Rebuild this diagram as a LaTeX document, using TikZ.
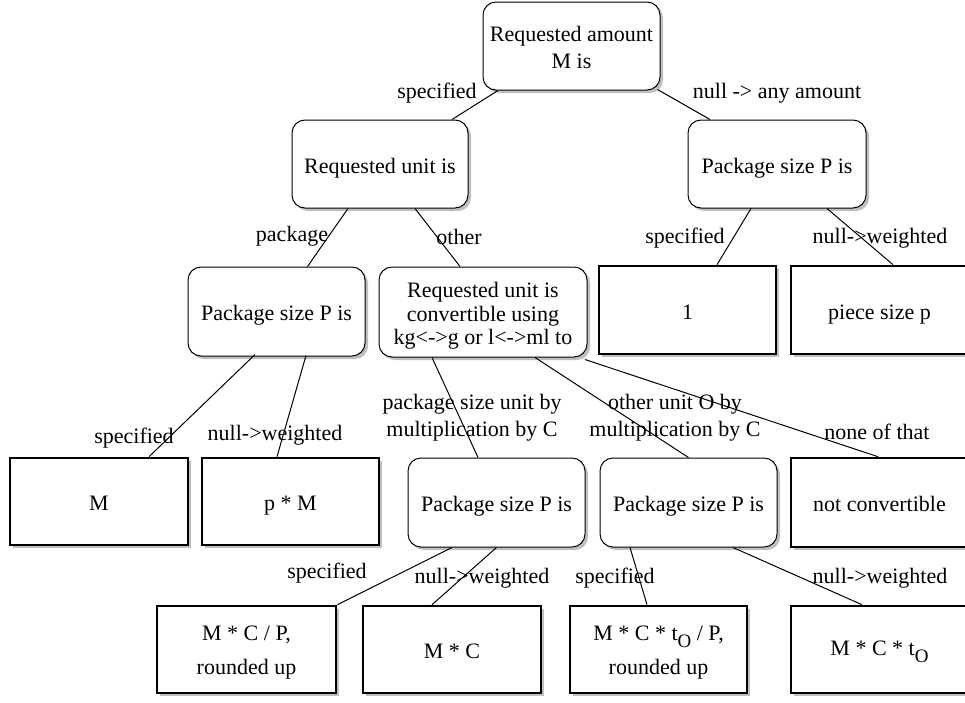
\documentclass[tikz,border=0pt]{standalone}
\usepackage{fontspec}
\setmainfont{Liberation Serif}
\usetikzlibrary{shadows}
\newcommand{\subO}{\raisebox{-7pt}{\fontsize{19}{19}\selectfont O}}
\begin{document}
\begin{tikzpicture}[x=1pt,y=-1pt,
  font=\fontsize{22}{27}\selectfont,
  boxshadow/.style={drop shadow={shadow xshift=3pt, shadow yshift=-3pt, fill=black!25, opacity=1}},
  % lift=h : the last text line sits h/2 below the node centre
  lift/.style={text height=#1, text depth=0pt},
  lift/.default=18pt,
  decision/.style={draw, line width=1pt, rounded corners=13pt, fill=white, align=center,
    inner sep=0pt, minimum width=177pt, minimum height=88pt, boxshadow, lift},
  leaf/.style={draw, line width=2.6pt, fill=white, align=center,
    inner sep=0pt, minimum width=177pt, minimum height=87pt, boxshadow, lift},
  link/.style={line width=1pt},
  tag/.style={inner sep=0pt, align=center}]
\useasboundingbox (0,0) rectangle (965,702);

% decision nodes
\node[decision, lift=44.6pt, font=\fontsize{22}{26.7}\selectfont] (root) at (571.5,46) {Requested amount\\M is};
\node[decision, minimum width=176pt] (unit) at (380,164) {Requested unit is};
\node[decision, minimum width=178pt] (rpkg) at (777,164) {Package size P is};
\node[decision, minimum height=89pt] (lpkg) at (276.5,311.5) {Package size P is};
\node[decision, minimum width=208pt, minimum height=90pt, lift=65.4pt,
  font=\fontsize{22}{23.4}\selectfont] (conv) at (483,312)
  {Requested unit is\\convertible using\\kg<->g or l<->ml to};
\node[decision, minimum height=89pt] (mid1) at (496.5,502.5) {Package size P is};
\node[decision, minimum height=89pt] (mid2) at (688.5,502.5) {Package size P is};

% results
\node[leaf, minimum height=88pt] (one) at (687.5,310) {1};
\node[leaf, minimum height=88pt] (piece) at (879.5,310) {piece size p};
\node[leaf, minimum width=178pt] (mM) at (99,501.5) {M};
\node[leaf] (pM) at (290.5,501.5) {p * M};
\node[leaf, minimum height=89pt] (nconv) at (879.5,502.5) {not convertible};
\node[leaf, minimum width=179pt, lift=49pt, font=\fontsize{22}{34}\selectfont] (mcp) at (246.5,649.5)
  {M * C / P,\\rounded up};
\node[leaf, minimum width=178pt] (mc) at (452,649.5) {M * C};
\node[leaf, lift=49pt, font=\fontsize{22}{34}\selectfont] (mctp) at (658.5,649.5)
  {M * C * t\subO{} / P,\\rounded up};
\node[leaf, lift=11pt] (mct) at (879.5,649.5) {M * C * t\subO};

% connectors
\draw[link] ([xshift=-73.5pt]root.south) -- ([xshift=72pt]unit.north);
\draw[link] ([xshift=86pt,yshift=1pt]root.south) -- ([xshift=-67pt]rpkg.north);
\draw[link] ([xshift=-32pt]unit.south) -- ([xshift=31pt]lpkg.north);
\draw[link] ([xshift=35pt]unit.south) -- ([xshift=-23pt]conv.north);
\draw[link] ([xshift=-26pt]rpkg.south) -- ([xshift=29.5pt]one.north);
\draw[link] ([xshift=50pt]rpkg.south) -- ([xshift=13.5pt]piece.north);
\draw[link] ([xshift=-21.5pt,yshift=2pt]lpkg.south) -- ([xshift=50pt]mM.north);
\draw[link] ([xshift=29.5pt,yshift=1pt]lpkg.south) -- ([xshift=-13.5pt]pM.north);
\draw[link] ([xshift=-51pt]conv.south) -- ([xshift=-18.5pt]mid1.north);
\draw[link] ([xshift=52pt]conv.south) -- (mid2.north);
\draw[link] ([xshift=102pt,yshift=-2pt]conv.south) -- ([xshift=-1.5pt]nconv.north);
\draw[link] ([xshift=-44.5pt]mid1.south) -- (mcp.north east);
\draw[link] (mid1.south) -- ([xshift=-20pt]mc.north);
\draw[link] ([xshift=-58.5pt]mid2.south) -- ([xshift=-11.5pt]mctp.north);
\draw[link] ([xshift=44.5pt]mid2.south) -- ([xshift=-17.5pt]mct.north);

% connector labels
\node[tag] (t1) at (437,93) {specified};
\node[tag] (t2) at (777,93) {null -> any amount};
\node[tag] (t3) at (292,236) {package};
\node[tag] (t4) at (459,237) {other};
\node[tag] (t5) at (685,238) {specified};
\node[tag] (t6) at (880,238) {null->weighted};
\node[tag] (t7) at (134,438) {specified};
\node[tag] (t8) at (275,435) {null->weighted};
\node[tag] (t9) at (472,418) {package size unit by\\multiplication by C};
\node[tag] (t10) at (675,418) {other unit O by\\multiplication by C};
\node[tag] (t11) at (877,432) {none of that};
\node[tag] (t12) at (327,573) {specified};
\node[tag] (t13) at (482,578) {null->weighted};
\node[tag] (t14) at (615,578) {specified};
\node[tag] (t15) at (880,578) {null->weighted};
\end{tikzpicture}
\end{document}
